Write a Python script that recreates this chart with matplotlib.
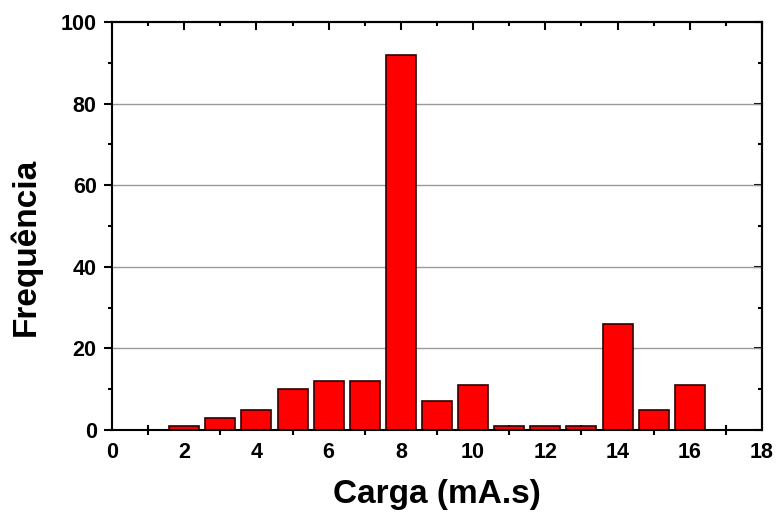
import matplotlib
matplotlib.use("Agg")
import matplotlib.pyplot as plt
from matplotlib.ticker import FixedLocator, MultipleLocator, NullFormatter

plt.rcParams['font.family'] = ['Liberation Sans', 'DejaVu Sans']
plt.rcParams['font.weight'] = 'bold'

# charge values (mA.s) and how often each occurs
carga = [2, 3, 4, 5, 6, 7, 8, 9, 10, 11, 12, 13, 14, 15, 16]
frequencia = [1, 3, 5, 10, 12, 12, 92, 7, 11, 1, 1, 1, 26, 5, 11]

fig = plt.figure(figsize=(7.77, 5.21), dpi=100)
ax = fig.add_axes([112 / 777, 1 - 430 / 521, 650 / 777, 408 / 521])

for y in (20, 40, 60, 80):
    ax.axhline(y, color='#999999', lw=1, zorder=1)

ax.bar(carga, frequencia, width=0.83, color='#ff0000', edgecolor='#300000',
       linewidth=1.2, zorder=2)

ax.set_xlim(0, 18)
ax.set_ylim(0, 100)

# bottom axis: labels on even values, crossing ticks on odd values
ax.xaxis.set_major_locator(MultipleLocator(2))
ax.xaxis.set_minor_locator(FixedLocator([1, 3, 5, 7, 9, 11, 13, 15, 17]))
ax.tick_params(axis='x', which='major', length=0, labelsize=15.5, pad=8.5)
ax.tick_params(axis='x', which='minor', direction='inout', length=7, width=1.5)
ax.yaxis.set_major_locator(MultipleLocator(20))
ax.yaxis.set_minor_locator(MultipleLocator(10))
ax.tick_params(axis='y', which='major', direction='out', length=6, width=1.5,
               labelsize=15.5, pad=5)
ax.tick_params(axis='y', which='minor', direction='out', length=3, width=1.5)
for lab in ax.get_xticklabels() + ax.get_yticklabels():
    lab.set_fontweight('bold')

for s in ax.spines.values():
    s.set_linewidth(1.5)
    s.set_zorder(5)

# top and right axes with inward ticks
top = ax.secondary_xaxis('top')
top.xaxis.set_major_locator(MultipleLocator(2))
top.xaxis.set_minor_locator(MultipleLocator(1))
top.xaxis.set_major_formatter(NullFormatter())
top.tick_params(which='major', direction='in', length=6, width=1.5)
top.tick_params(which='minor', direction='in', length=3, width=1.5)
top.spines['top'].set_linewidth(1.5)

right = ax.secondary_yaxis('right')
right.yaxis.set_major_locator(MultipleLocator(20))
right.yaxis.set_minor_locator(MultipleLocator(10))
right.yaxis.set_major_formatter(NullFormatter())
right.tick_params(which='major', direction='in', length=6, width=1.5)
right.tick_params(which='minor', direction='in', length=3, width=1.5)
right.spines['right'].set_linewidth(1.5)

ax.set_xlabel('Carga (mA.s)', fontsize=24, fontweight='bold', labelpad=12)
ax.set_ylabel('Frequência', fontsize=24, fontweight='bold')
ax.yaxis.set_label_coords(-0.108, 0.45)

fig.savefig('out.png', dpi=100)
